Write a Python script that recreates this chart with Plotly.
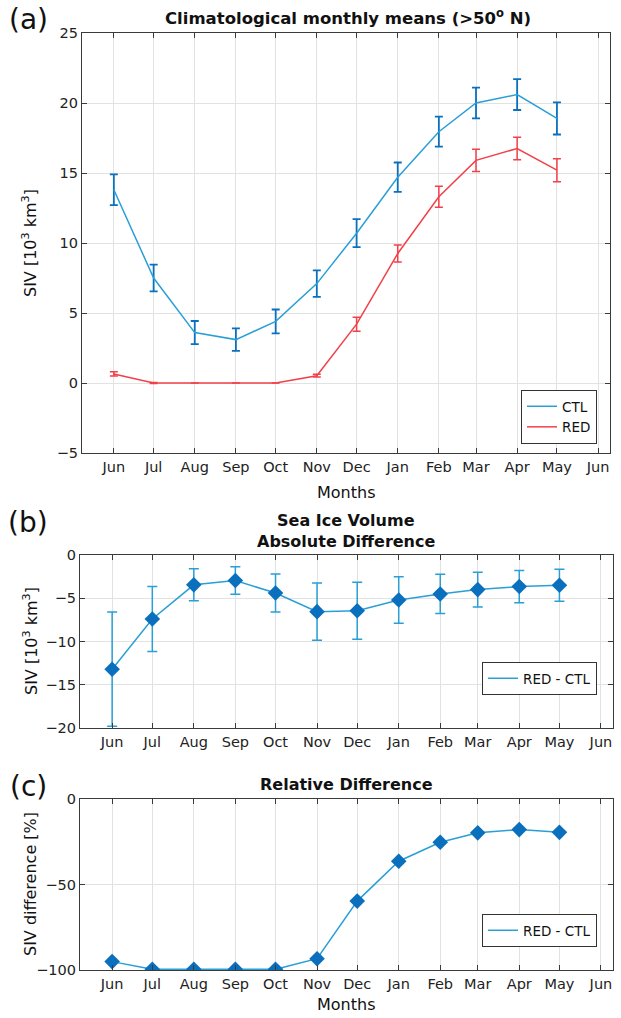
import plotly.graph_objects as go

# ---------------- data ----------------
months = ["2000-06-01", "2000-07-01", "2000-08-01", "2000-09-01", "2000-10-01", "2000-11-01",
          "2000-12-01", "2001-01-01", "2001-02-01", "2001-03-01", "2001-04-01", "2001-05-01"]
tick_dates = months + ["2001-06-01"]
tick_labels = ["Jun", "Jul", "Aug", "Sep", "Oct", "Nov", "Dec", "Jan", "Feb", "Mar", "Apr", "May", "Jun"]

ctl_mean = [13.8, 7.5, 3.6, 3.1, 4.4, 7.1, 10.7, 14.7, 17.95, 20.0, 20.6, 18.9]
ctl_err = [1.1, 0.95, 0.83, 0.8, 0.85, 0.95, 1.0, 1.05, 1.07, 1.1, 1.1, 1.15]
red_mean = [0.65, 0.0, 0.0, 0.0, 0.0, 0.52, 4.2, 9.25, 13.3, 15.9, 16.75, 15.2]
red_err = [0.15, 0.03, 0.0, 0.0, 0.0, 0.1, 0.5, 0.6, 0.75, 0.8, 0.8, 0.82]

abs_diff = [-13.2, -7.4, -3.45, -2.95, -4.4, -6.55, -6.45, -5.2, -4.5, -4.0, -3.65, -3.5]
abs_err = [6.6, 3.75, 1.85, 1.6, 2.2, 3.3, 3.3, 2.7, 2.27, 2.0, 1.87, 1.85]

rel_diff = [-95.1, -99.6, -99.6, -99.6, -99.6, -93.4, -59.7, -36.4, -25.3, -19.8, -17.9, -19.5]

# ---------------- styling ----------------
W, H = 621, 1018
BLUE_LINE = "#2a9fd6"
BLUE_DARK = "#0a70bd"
RED = "#f2404a"
AXC = "#3a3a3a"
GRID = "#e2e2e2"
FONT = "DejaVu Sans"


def px(x):
    return x / W


def py(y):
    return 1 - y / H


fig = go.Figure()

# Panel (a)
fig.add_trace(go.Scatter(
    x=months, y=ctl_mean, mode="lines", name="CTL",
    line=dict(color=BLUE_LINE, width=1.5),
    error_y=dict(type="data", array=ctl_err, color=BLUE_DARK, thickness=1.8, width=4),
    xaxis="x", yaxis="y", legend="legend"))
fig.add_trace(go.Scatter(
    x=months, y=red_mean, mode="lines", name="RED",
    line=dict(color=RED, width=1.5),
    error_y=dict(type="data", array=red_err, color=RED, thickness=1.5, width=4),
    xaxis="x", yaxis="y", legend="legend"))

# Panel (b)
fig.add_trace(go.Scatter(
    x=months, y=abs_diff, mode="lines+markers", name="RED - CTL", showlegend=False,
    line=dict(color=BLUE_LINE, width=1.5),
    marker=dict(symbol="diamond", size=12, color=BLUE_DARK),
    error_y=dict(type="data", array=abs_err, color=BLUE_LINE, thickness=1.5, width=5),
    xaxis="x2", yaxis="y2"))
fig.add_trace(go.Scatter(
    x=[None], y=[None], mode="lines", name="RED - CTL",
    line=dict(color=BLUE_LINE, width=1.5),
    xaxis="x2", yaxis="y2", legend="legend2"))

# Panel (c)
fig.add_trace(go.Scatter(
    x=months, y=rel_diff, mode="lines+markers", name="RED - CTL", showlegend=False,
    line=dict(color=BLUE_LINE, width=1.5),
    marker=dict(symbol="diamond", size=12, color=BLUE_DARK),
    xaxis="x3", yaxis="y3"))
fig.add_trace(go.Scatter(
    x=[None], y=[None], mode="lines", name="RED - CTL",
    line=dict(color=BLUE_LINE, width=1.5),
    xaxis="x3", yaxis="y3", legend="legend3"))

TICKFONT = dict(family=FONT, size=14.5, color="#222")

xcommon = dict(
    type="date", range=["2000-05-08", "2001-06-10"],
    tickmode="array", tickvals=tick_dates, ticktext=tick_labels,
    showgrid=True, gridcolor=GRID, gridwidth=1,
    showline=True, linecolor=AXC, linewidth=1.2, mirror="ticks",
    ticks="inside", ticklen=5, tickcolor=AXC,
    tickfont=TICKFONT, ticklabeloverflow="allow",
    zeroline=False, automargin=False, fixedrange=True,
)
ycommon = dict(
    showgrid=True, gridcolor=GRID, gridwidth=1,
    showline=True, linecolor=AXC, linewidth=1.2, mirror="ticks",
    ticks="inside", ticklen=5, tickcolor=AXC,
    tickfont=TICKFONT,
    zeroline=False, automargin=False, fixedrange=True,
)

legend_common = dict(
    bgcolor="white", bordercolor="#333", borderwidth=1,
    font=dict(family=FONT, size=13.5, color="#111"),
    xanchor="right", yanchor="bottom", tracegroupgap=0,
)

fig.update_layout(
    width=W, height=H,
    margin=dict(l=0, r=0, t=0, b=0),
    paper_bgcolor="white", plot_bgcolor="white",
    font=dict(family=FONT, color="#111"),
    xaxis=dict(xcommon, domain=[px(82), px(610)], anchor="y"),
    yaxis=dict(ycommon, domain=[py(453), py(33)], anchor="x",
               range=[-5, 25], tickvals=[-5, 0, 5, 10, 15, 20, 25]),
    xaxis2=dict(xcommon, domain=[px(80), px(613)], anchor="y2"),
    yaxis2=dict(ycommon, domain=[py(728), py(555)], anchor="x2",
                range=[-20, 0], tickvals=[-20, -15, -10, -5, 0]),
    xaxis3=dict(xcommon, domain=[px(80), px(613)], anchor="y3"),
    yaxis3=dict(ycommon, domain=[py(970), py(799)], anchor="x3",
                range=[-100, 0], tickvals=[-100, -50, 0]),
    legend=dict(legend_common, x=px(597), y=py(444)),
    legend2=dict(legend_common, x=px(597), y=py(695)),
    legend3=dict(legend_common, x=px(597), y=py(947)),
    showlegend=True,
)

ann = []


def add_text(text, x, y, size=13, bold=False, angle=0, xanchor="center"):
    if bold:
        text = "<b>" + text + "</b>"
    ann.append(dict(text=text, x=px(x), y=py(y), xref="paper", yref="paper",
                    showarrow=False, xanchor=xanchor, yanchor="middle",
                    textangle=angle, font=dict(family=FONT, size=size, color="#111")))


# titles
add_text("Climatological monthly means (>50<sup>o</sup> N)", 348, 17, size=16.5, bold=True)
add_text("Sea Ice Volume", 346, 520, size=16, bold=True)
add_text("Absolute Difference", 346, 541, size=16, bold=True)
add_text("Relative Difference", 346, 784, size=16, bold=True)

# panel letters
add_text("(a)", 28, 20, size=28)
add_text("(b)", 28, 522, size=28)
add_text("(c)", 28, 786, size=28)

# axis titles
add_text("SIV [10<sup>3</sup> km<sup>3</sup>]", 30, 243, size=16, angle=-90)
add_text("SIV [10<sup>3</sup> km<sup>3</sup>]", 30, 641, size=16, angle=-90)
add_text("SIV difference [%]", 30, 884, size=16, angle=-90)
add_text("Months", 346, 492, size=16)
add_text("Months", 346, 1004, size=16)

fig.update_layout(annotations=ann)

fig.write_html(
    "out.html",
    config={"displayModeBar": False},
    post_script="document.body.style.margin='0';document.body.style.overflow='hidden';",
)
